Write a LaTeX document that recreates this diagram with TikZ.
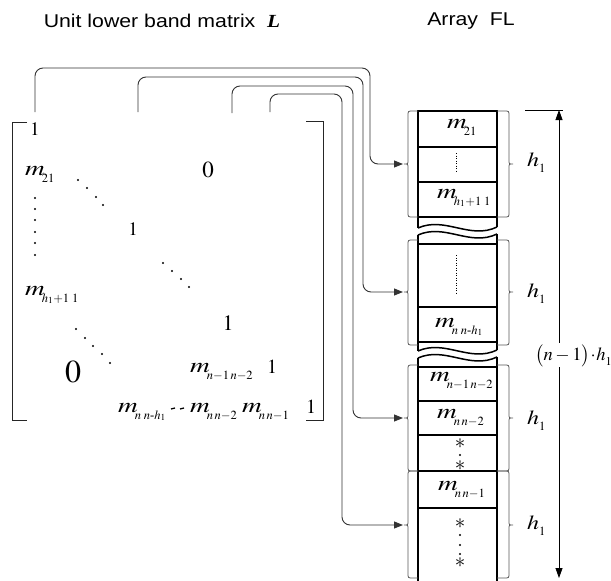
\documentclass[tikz,border=0pt]{standalone}
\usepackage{amsmath}
\usepackage{mathptmx}
\usepackage[no-math]{fontspec}
\setmainfont{Liberation Serif}
\newfontfamily\arialf{Liberation Sans}
\usetikzlibrary{arrows.meta}
\newcommand\hs[2][1.15]{\scalebox{#1}[1]{#2}}
\newcommand\fsz[1]{\fontsize{#1}{#1}\selectfont}
\newcommand\mm[1]{\hs[1.3]{\fsz{21}$m$}\kern-3pt\raisebox{-7pt}{\fsz{12.5}$#1$}}
\newcommand\dg[2]{{\fsz{#1}$#2$}}
\newcommand\hh{\hs[1.2]{\fsz{20}$h$}\raisebox{-6pt}{\fsz{12.5}$1$}}
\newcommand\lbr[3]{\draw[brc] (418,#1) -- (413,#1) .. controls (408,#1) .. (408,#1+5) -- (408,#2-4) .. controls (408,#2) .. (404,#2) .. controls (408,#2) .. (408,#2+4) -- (408,#3-5) .. controls (408,#3) .. (413,#3) -- (418,#3);}
\newcommand\rbr[3]{\draw[brc] (497,#1) -- (504,#1) .. controls (509,#1) .. (509,#1+5) -- (509,#2-4) .. controls (509,#2) .. (513,#2) .. controls (509,#2) .. (509,#2+4) -- (509,#3-5) .. controls (509,#3) .. (504,#3) -- (497,#3);}
\newcommand\wave[1]{\draw[box] (418,#1) .. controls (445,#1-12) and (470,#1+12) .. (497,#1-1);}
\begin{document}
\begin{tikzpicture}[x=1pt,y=-1pt,
  every node/.style={inner sep=0pt},
  conn/.style={line width=0.9pt, black!80, rounded corners=8pt, -{Triangle[length=9pt,width=7pt]}},
  brc/.style={line width=0.8pt, black!65},
  box/.style={line width=1.5pt, black},
  brk/.style={line width=1pt, black!85},
  dimen/.style={line width=0.8pt, black}]
\useasboundingbox (0,0) rectangle (611,581);

% titles
\node (t1) at (162,21) {\hs{\arialf\fsz{18.5}Unit lower band matrix\ \ {\rmfamily\bfseries\itshape L}}};
\node (t2) at (471,21) {\hs{\arialf\fsz{18.5}Array\ \ FL}};

% matrix brackets
\draw[brk] (27,122) -- (12,122) -- (12,420) -- (27,420);
\draw[brk] (306,121) -- (323,121) -- (323,420) -- (306,420);

% matrix entries
\node[anchor=base] (a11) at (35,135) {\dg{19}{1}};
\node[anchor=base west] (a21) at (25,175) {\mm{21}};
\node[anchor=base] (z1) at (208,177) {\dg{23}{0}};
\node[anchor=base] (a22) at (133,235) {\dg{19}{1}};
\node[anchor=base west] (ah) at (25,295) {\mm{h_1{+}1\;1}};
\node[anchor=base] (a33) at (228,330) {\dg{22}{1}};
\node[anchor=base] (z2) at (73,382) {\dg{32}{0}};
\node[anchor=base west] (an1) at (190,372) {\mm{n{-}1\,n{-}2}};
\node[anchor=base] (a44) at (272,373) {\dg{20}{1}};
\node[anchor=base west] (b1) at (118,412) {\mm{n\;n\text{-}h_1}};
\node[anchor=base west] (b2) at (190,412) {\mm{n\,n{-}2}};
\node[anchor=base west] (b3) at (242,412) {\mm{n\,n{-}1}};
\node[anchor=base] (a55) at (311,413) {\dg{20}{1}};

% dots in the matrix
\foreach \p in {(78,180),(87,188),(96,197),(103,205),
                (163,263),(172,271),(181,279),(189,287),
                (76,329),(85,338),(93,346),(102,354),(110,363)}
  \fill \p circle (1.1);
\foreach \y in {198,209,220,232,243,255}
  \fill (35,\y) circle (1.1);
\draw[line width=1.3pt] (171,409) -- (175,408);
\draw[line width=1.3pt] (180,409) -- (184,408);

% connectors
\coordinate (s1) at (35,112);
\coordinate (s2) at (138,112);
\coordinate (s3) at (232,113);
\coordinate (s4) at (270,112);
\coordinate (c1) at (370,68);
\coordinate (c2) at (363,77);
\coordinate (c3) at (353,86);
\coordinate (c4) at (342,94);
\coordinate (e1) at (403,164);
\coordinate (e2) at (403,292);
\coordinate (e3) at (403,418);
\coordinate (e4) at (403,525);
\draw[conn] (s1) |- (c1) |- (e1);
\draw[conn] (s2) |- (c2) |- (e2);
\draw[conn] (s3) |- (c3) |- (e3);
\draw[conn] (s4) |- (c4) |- (e4);

% array FL
\draw[box] (418,228) -- (418,111) -- (497,111) -- (497,227);
\foreach \y in {147,182,217} \draw[box] (418,\y) -- (497,\y);
\wave{228}
\wave{235}
\draw[box] (418,235) -- (418,351);
\draw[box] (497,234) -- (497,350);
\foreach \y in {244,307,342} \draw[box] (418,\y) -- (497,\y);
\wave{351}
\wave{358}
\draw[box] (418,358) -- (418,581);
\draw[box] (497,357) -- (497,581);
\foreach \y in {367,401,435,471,508} \draw[box] (418,\y) -- (497,\y);

% cell contents
\node[anchor=base west] (f1) at (447,128) {\mm{21}};
\draw[line width=0.5pt, dotted] (456,153) -- (456,171);
\node[anchor=base west] (f2) at (437,198) {\mm{h_1{+}1\;1}};
\draw[line width=0.5pt, dotted] (456,255) -- (456,293);
\node[anchor=base west] (f3) at (435,327) {\mm{n\;n\text{-}h_1}};
\node[anchor=base west] (f4) at (430,381) {\mm{n{-}1\,n{-}2}};
\node[anchor=base west] (f5) at (437,418) {\mm{n\,n{-}2}};
\node[anchor=base west] (f6) at (438,490) {\mm{n\,n{-}1}};
\node (st1) at (460,444) {\fsz{21}$\ast$};
\node (st2) at (460,466) {\fsz{21}$\ast$};
\fill (460,455) circle (1.1);
\node (st3) at (460,524) {\fsz{21}$\ast$};
\node (st4) at (460,563) {\fsz{21}$\ast$};
\foreach \y in {535,545,554} \fill (460,\y) circle (1.1);

% braces
\lbr{111}{164}{217}
\lbr{240}{292}{345}
\lbr{365}{418}{471}
\lbr{471}{525}{578}
\rbr{111}{164}{217}
\rbr{240}{292}{345}
\rbr{365}{418}{471}
\rbr{471}{525}{578}

% h1 labels
\node[anchor=base west] (h1) at (527,166) {\hh};
\node[anchor=base west] (h2) at (527,297) {\hh};
\node[anchor=base west] (h3) at (527,424) {\hh};
\node[anchor=base west] (h4) at (527,529) {\hh};

% dimension
\coordinate (dt) at (559,110);
\coordinate (db) at (559,578);
\coordinate (tl) at (525,110);
\coordinate (tr) at (563,110);
\draw[dimen] (tl) -- (tr);
\draw[dimen, {Triangle[length=10pt,width=7pt]}-{Triangle[length=10pt,width=7pt]}] (dt) -- (db);
\node[fill=white, inner sep=1pt, anchor=base west] (nh) at (534,360) {\fsz{18.5}$\bigl(n-1\bigr)\!\cdot\! h$\raisebox{-5pt}{\fsz{12}$1$}};
\end{tikzpicture}
\end{document}
